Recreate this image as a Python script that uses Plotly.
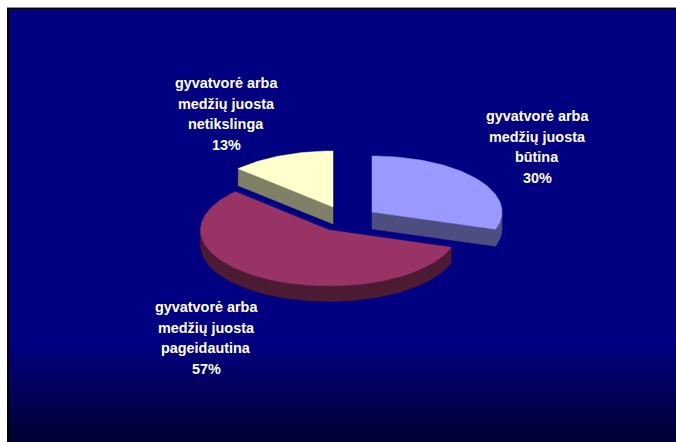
import numpy as np
import plotly.graph_objects as go

categories = ["gyvatvorė arba<br>medžių juosta<br>būtina",
              "gyvatvorė arba<br>medžių juosta<br>pageidautina",
              "gyvatvorė arba<br>medžių juosta<br>netikslinga"]
shares = [30, 57, 13]
top_colors = ["#9999FF", "#993366", "#FFFFCC"]
side_colors = ["#4D4D80", "#4D1A33", "#808066"]
apex_x = [372, 329, 333]
apex_y = [212, 230, 207]
radius_x = [130, 128.5, 130]
depth = [17, 15.5, 17]
label_x = [537, 206, 226]
label_y = [116, 307, 83]
line_gap = 20.6
RY = 56

W, H = 676, 442
fig = go.Figure()

# slice boundaries, clockwise from the top
edges = np.concatenate([[0], np.cumsum(shares)]) / sum(shares) * 2 * np.pi
for i in [2, 0, 1]:
    t = np.linspace(edges[i], edges[i + 1], max(int((edges[i + 1] - edges[i]) * 40), 3))
    px = np.concatenate([[apex_x[i]], apex_x[i] + radius_x[i] * np.sin(t), [apex_x[i]]])
    py = np.concatenate([[apex_y[i]], apex_y[i] - RY * np.cos(t), [apex_y[i]]])
    # the wall is swept only along edges that face the viewer (moving left on screen)
    front = np.where(np.diff(px) < 0)[0]
    a, b = front[0], front[-1] + 1
    wx = np.concatenate([px[a:b + 1], px[a:b + 1][::-1], [px[a]]])
    wy = np.concatenate([py[a:b + 1], py[a:b + 1][::-1] + depth[i], [py[a]]])
    fig.add_trace(go.Scatter(x=wx, y=wy, mode="lines", fill="toself", fillcolor=side_colors[i],
                             line=dict(color=side_colors[i], width=0.5), hoverinfo="skip"))
    fig.add_trace(go.Scatter(x=px, y=py, mode="lines", fill="toself", fillcolor=top_colors[i],
                             line=dict(color=top_colors[i], width=0.5), name=categories[i],
                             hoverinfo="name"))

annotations = []
for i, cat in enumerate(categories):
    lines = cat.split("<br>") + [f"{shares[i]}%"]
    for j, ln in enumerate(lines):
        annotations.append(dict(x=label_x[i], y=label_y[i] + j * line_gap, xref="x", yref="y",
                                text=f"<b>{ln}</b>", showarrow=False, xanchor="center", yanchor="middle",
                                font=dict(family="Liberation Sans", size=14.4, color="white")))

shapes = [
    dict(type="rect", x0=7, x1=W, y0=7, y1=H, fillcolor="#000000", line_width=0, layer="below"),
    dict(type="rect", x0=7, x1=W, y0=7, y1=8, fillcolor="#909090", line_width=0, layer="below"),
    dict(type="rect", x0=9, x1=W, y0=9, y1=H, fillcolor="#000080", line_width=0, layer="below"),
]
# background fades from navy towards near-black at the foot of the plate
G0, G1 = 345, H
for y in range(G0, G1):
    f = (y - G0) / (G1 - G0)
    b = int(round(128 * (1 - f) + 48 * f))
    shapes.append(dict(type="rect", x0=9, x1=W, y0=y, y1=y + 1, fillcolor=f"rgb(0,0,{b})",
                       line_width=0, layer="below"))

fig.update_layout(
    width=W, height=H, autosize=False, margin=dict(l=0, r=0, t=0, b=0),
    paper_bgcolor="white", plot_bgcolor="white", showlegend=False,
    xaxis=dict(range=[0, W], visible=False, fixedrange=True),
    yaxis=dict(range=[H, 0], visible=False, fixedrange=True),
    shapes=shapes, annotations=annotations,
)
fig.write_html("out.html", config={"displayModeBar": False},
               post_script="document.body.style.margin='0';document.documentElement.style.overflow='hidden';")
